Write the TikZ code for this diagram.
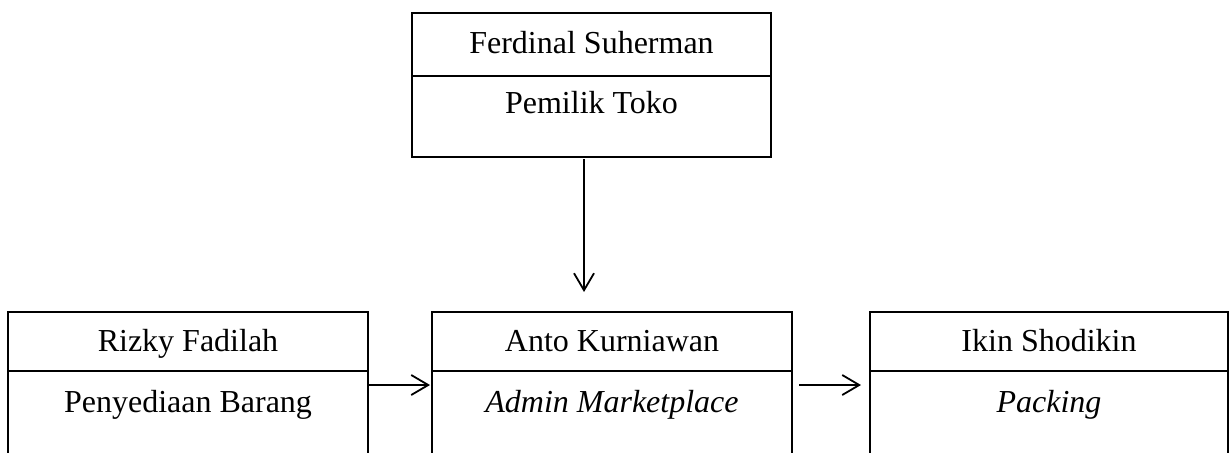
\documentclass[tikz,border=0pt]{standalone}
\usepackage{fontspec}
\setmainfont{Liberation Serif}
\usetikzlibrary{positioning,arrows.meta}

\begin{document}
\begin{tikzpicture}[->, >={Straight Barb[length=8.5pt,width=10pt]}, line width=0.9pt,
	font=\fontsize{16pt}{19pt}\selectfont, node distance=0pt,
	namecell/.style={rectangle, draw, -, outer sep=0pt, inner xsep=0pt, inner ysep=0pt, minimum width=180pt, text height=19.5pt, text depth=10pt},
	rolecell/.style={rectangle, draw, -, outer sep=0pt, inner xsep=0pt, inner ysep=0pt, minimum width=180pt, text height=20.5pt, text depth=34.5pt}]
	\useasboundingbox (0,0) rectangle (615pt,-226pt);
	\clip (0,0) rectangle (615pt,-226pt);
	% pemilik
	\node[namecell, anchor=north west, minimum width=179.5pt, text height=20pt, text depth=11.5pt] (ferdinal) at (206pt,-6.5pt) {Ferdinal Suherman};
	\node[rolecell, below=of ferdinal, minimum width=179.5pt, text height=18.5pt, text depth=22pt] (pemilik) {Pemilik Toko};
	% staf
	\node[namecell, anchor=north west] (anto) at (216pt,-156pt) {Anto Kurniawan};
	\node[rolecell, below=of anto] (admin) {\textit{Admin Marketplace}};
	\node[namecell, left=32pt of anto] (rizky) {Rizky Fadilah};
	\node[rolecell, below=of rizky] (barang) {Penyediaan Barang};
	\node[namecell, right=39pt of anto, minimum width=179pt] (ikin) {Ikin Shodikin};
	\node[rolecell, below=of ikin, minimum width=179pt] (packing) {\textit{Packing}};
	
	\coordinate (p1) at ([xshift=-3.75pt]pemilik.south);
	\coordinate (p2) at ([yshift=-7pt]barang.north east);
	\coordinate (p3) at ([yshift=-7pt]barang.north east -| admin.east);
	\draw[shorten <=1pt, shorten >=10pt] (p1) -- (p1 |- anto.north);
	\draw[shorten >=1pt] (p2) -- (p2 -| admin.west);
	\draw[shorten <=3.5pt, shorten >=4.5pt] (p3) -- (p3 -| packing.west);
\end{tikzpicture}
\end{document}
